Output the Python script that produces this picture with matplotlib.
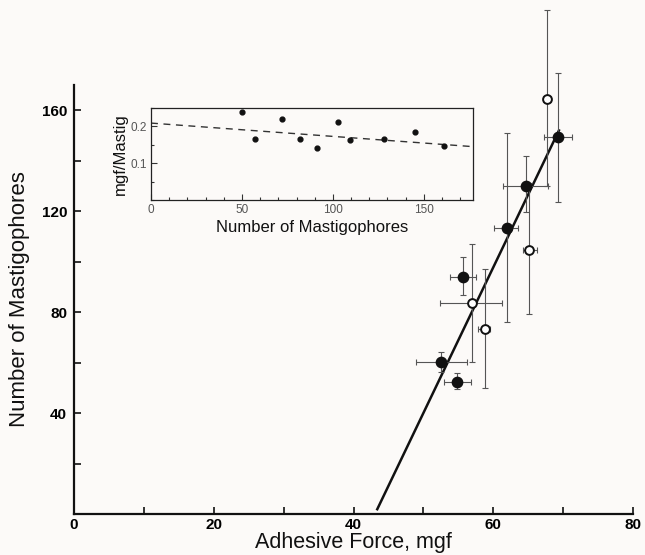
import matplotlib
matplotlib.use("Agg")
import matplotlib.pyplot as plt
from matplotlib.ticker import MultipleLocator

plt.rcParams["font.family"] = ["Liberation Sans", "DejaVu Sans"]

# main panel: adhesive force (mgf) vs number of mastigophores
filled_x = [64.7, 61.9, 55.6, 52.5, 54.8, 69.3]
filled_y = [130.0, 113.5, 94.0, 60.3, 52.4, 149.4]
filled_xlo = [61.4, 60.1, 53.8, 49.0, 53.0, 67.2]
filled_xhi = [67.9, 63.6, 57.5, 56.2, 56.8, 71.2]
filled_ylo = [119.7, 76.2, 86.7, 56.4, 49.4, 123.7]
filled_yhi = [141.8, 150.8, 101.9, 64.3, 55.7, 174.9]

open_x = [67.7, 65.1, 57.0, 58.75]
open_y = [164.4, 104.8, 83.8, 73.3]
open_xlo = [67.1, 64.2, 52.4, 57.8]
open_xhi = [68.3, 66.2, 61.2, 59.6]
open_ylo = [130.0, 79.2, 60.3, 49.8]
open_yhi = [199.6, 131.0, 106.9, 96.9]

fit_x = [43.4, 69.4]
fit_y = [1.9, 152.0]

# inset: mgf per mastigophore
inset_x = [49.9, 57.2, 72.2, 81.9, 91.0, 102.9, 109.3, 128.0, 145.0, 161.1]
inset_y = [0.240, 0.165, 0.219, 0.166, 0.140, 0.213, 0.164, 0.165, 0.184, 0.146]
inset_fit_x = [0, 177]
inset_fit_y = [0.209, 0.145]

bg = "#fcfaf8"
ink = "#111111"


def err(vals, lo, hi):
    return [[v - l for v, l in zip(vals, lo)], [h - v for v, h in zip(vals, hi)]]


fig = plt.figure(figsize=(6.45, 5.55), dpi=100, facecolor=bg)
ax = fig.add_axes([74 / 645, 1 - 514 / 555, 559 / 645, 429 / 555], facecolor=bg)

ax.plot(fit_x, fit_y, color=ink, lw=1.8, zorder=2)

ebkw = dict(fmt="none", ecolor="#555555", elinewidth=0.8, capsize=2.5,
            capthick=0.8, clip_on=False, zorder=3)
ax.errorbar(filled_x, filled_y, xerr=err(filled_x, filled_xlo, filled_xhi),
            yerr=err(filled_y, filled_ylo, filled_yhi), **ebkw)
ax.errorbar(open_x, open_y, xerr=err(open_x, open_xlo, open_xhi),
            yerr=err(open_y, open_ylo, open_yhi), **ebkw)
ax.scatter(filled_x, filled_y, s=55, color=ink, zorder=4, clip_on=False)
ax.scatter(open_x, open_y, s=40, facecolor="white", edgecolor=ink, lw=1.4,
           zorder=4, clip_on=False)

ax.set_xlim(0, 80)
ax.set_ylim(0, 170)
ax.xaxis.set_major_locator(MultipleLocator(20))
ax.xaxis.set_minor_locator(MultipleLocator(10))
ax.yaxis.set_minor_locator(MultipleLocator(20))
ax.set_yticks([40, 80, 120, 160])
for s in ["top", "right"]:
    ax.spines[s].set_visible(False)
for s in ["left", "bottom"]:
    ax.spines[s].set_linewidth(1.6)
    ax.spines[s].set_color(ink)
ax.tick_params(which="both", direction="in", color=ink, width=1.2)
ax.tick_params(which="major", length=5, labelsize=11, pad=5)
ax.tick_params(axis="x", which="major", pad=3)
ax.tick_params(which="minor", length=5)
for lab in ax.get_xticklabels() + ax.get_yticklabels():
    lab.set_fontweight("bold")
ax.set_xlabel("Adhesive Force, mgf", fontsize=15.5, color=ink, labelpad=0)
ax.set_ylabel("Number of Mastigophores", fontsize=16, color=ink, labelpad=8)

# inset
ins = fig.add_axes([151 / 645, 1 - 200 / 555, 322 / 645, 92 / 555], facecolor=bg)
ins.plot(inset_fit_x, inset_fit_y, color="#333333", lw=1.0, ls=(0, (5, 4)))
ins.scatter(inset_x, inset_y, s=12, color=ink, zorder=3)
ins.set_xlim(0, 177)
ins.set_ylim(0, 0.25)
ins.xaxis.set_major_locator(MultipleLocator(50))
ins.xaxis.set_minor_locator(MultipleLocator(10))
ins.set_yticks([0.1, 0.2])
ins.yaxis.set_minor_locator(MultipleLocator(0.05))
for s in ins.spines.values():
    s.set_linewidth(0.9)
    s.set_color("#222222")
ins.tick_params(which="both", direction="in", color="#333333", width=0.8)
ins.tick_params(which="major", length=4, labelsize=8.5, labelcolor="#555555", pad=3)
ins.tick_params(which="minor", length=2.5)
ins.set_xlabel("Number of Mastigophores", fontsize=12, color=ink, labelpad=3)
ins.set_ylabel("mgf/Mastig", fontsize=12, color=ink, labelpad=2)

fig.savefig("out.png", dpi=100, facecolor=bg)
